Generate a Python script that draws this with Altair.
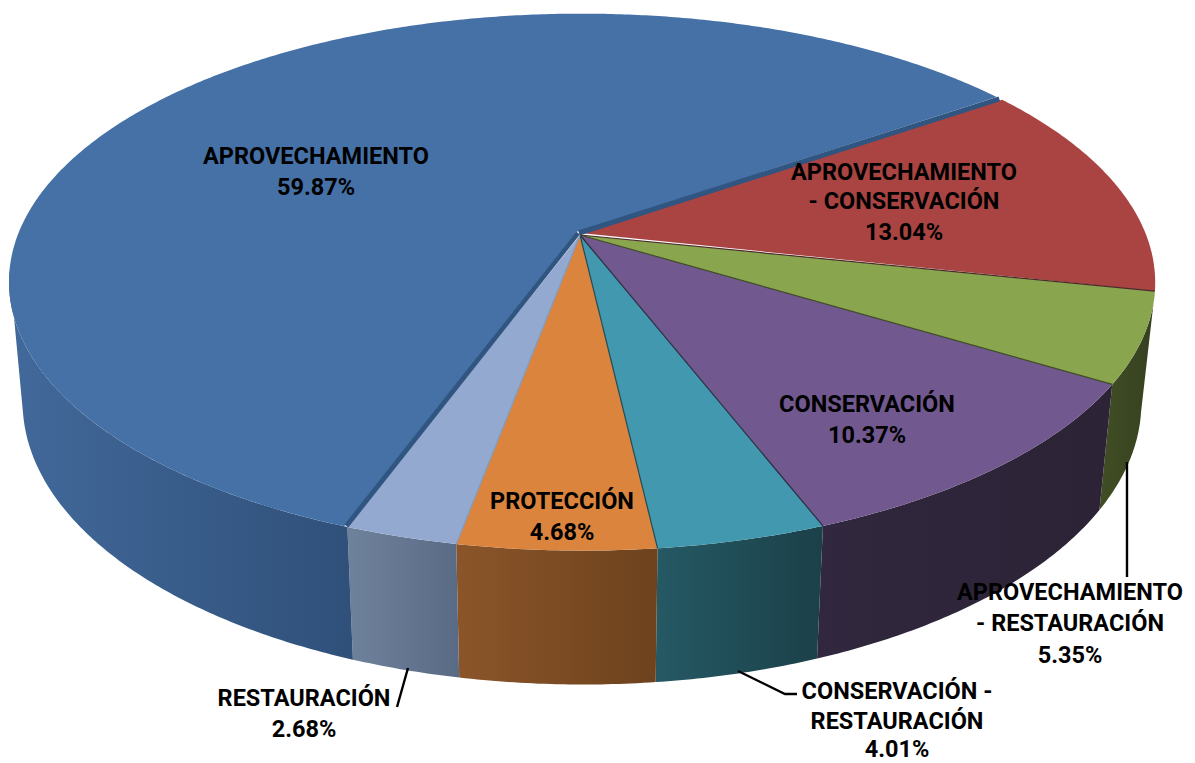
import math
import altair as alt
import pandas as pd

names = ["RED", "GREEN", "PURPLE", "TEAL", "ORANGE", "LIGHT", "BLUE"]
shares = [13.04, 5.35, 10.37, 4.01, 4.68, 2.68, 59.87]
top_colors = ["#a94442", "#89a54e", "#71588f", "#4198af", "#db843d", "#93a9cf", "#4571a7"]
wall_left = ["#a94442", "#414e24", "#31273e", "#255964", "#8b5529", "#6f829c", "#42699b"]
wall_right = ["#a94442", "#364020", "#2c2336", "#1b4049", "#6d421d", "#596a85", "#2f5079"]

label_text = ["APROVECHAMIENTO", "59.87%", "APROVECHAMIENTO", "- CONSERVACIÓN", "13.04%",
              "CONSERVACIÓN", "10.37%", "PROTECCIÓN", "4.68%", "RESTAURACIÓN", "2.68%",
              "CONSERVACIÓN -", "RESTAURACIÓN", "4.01%", "APROVECHAMIENTO", "-  RESTAURACIÓN", "5.35%"]
label_x = [316, 316, 904, 904, 904, 867, 867, 562, 562, 304, 304, 897, 897, 897, 1070, 1070, 1070]
label_y = [157, 188, 173, 202, 233, 405, 436, 502, 533, 699, 730, 692, 722, 750, 593, 624, 656]

leader_x = [[1127, 1127], [408, 397], [738, 785, 797]]
leader_y = [[462, 577], [668, 707], [671, 694, 694]]

START = -34.6
CX, CY, A, B, K, M = 578.0, 233.0, 563.4, 259.5, 0.183, 0.007
SCX, SCY = alt.Scale(domain=[8, 1187]), alt.Scale(domain=[763, 8])


def top(t):
    u, v = math.cos(math.radians(t)), math.sin(math.radians(t))
    s = 1 / (1 - K * v - M * u)
    return CX + A * u * s, CY + B * v * s


def bottom(t):
    x, y = top(t)
    return CX + 0.976 * (x - CX), CY + 118 + 1.05 * (y - CY)


def arc(f, a, b):
    n = max(2, int(abs(b - a)) * 2)
    return [f(a + (b - a) * i / n) for i in range(n + 1)]


def poly(points, fill):
    df = pd.DataFrame(points, columns=["x", "y"])
    df["i"] = range(len(df))
    return alt.Chart(df).mark_line(interpolate="linear", fill=fill, stroke=None, strokeWidth=0).encode(
        x=alt.X("x:Q", scale=SCX, axis=None),
        y=alt.Y("y:Q", scale=SCY, axis=None),
        order="i:Q",
    )


def path(xs, ys, color, sw):
    df = pd.DataFrame({"x": xs, "y": ys, "i": range(len(xs))})
    return alt.Chart(df).mark_line(color=color, strokeWidth=sw, interpolate="linear").encode(
        x=alt.X("x:Q", scale=SCX, axis=None),
        y=alt.Y("y:Q", scale=SCY, axis=None),
        order="i:Q",
    )


edges = [START]
for p in shares:
    edges.append(edges[-1] + p * 3.6)

layers = []
# outer walls
wall_ranges = [(edges[1], edges[2]), (edges[2], edges[3]), (edges[3], edges[4]),
               (edges[4], edges[5]), (edges[5], edges[6]), (edges[6], 172.0)]
for idx, (a, b) in zip(range(1, 7), wall_ranges):
    a2 = max(a, 10.0)
    pts = arc(top, a2, b) + arc(bottom, min(b, 167.0), a2)
    grad = alt.Gradient(gradient="linear", x1=0, x2=1, y1=0, y2=0,
                        stops=[alt.GradientStop(color=wall_left[idx], offset=0),
                               alt.GradientStop(color=wall_right[idx], offset=1)])
    layers.append(poly(pts, grad))

# top faces: blue first, then the others, then the blue cut faces
blue = [(CX - 2, CY - 1)] + arc(top, edges[6] + 0.3, edges[7] - 0.6)
layers.append(poly(blue, top_colors[6]))
for idx in range(6):
    ax = CX + 2
    ay = CY if idx == 0 else CY + 2
    ta = edges[idx] + (0.3 if idx == 0 else 0)
    pts = [(ax, ay)] + arc(top, ta, edges[idx + 1])
    layers.append(poly(pts, top_colors[idx]))

x1, y1 = top(edges[7])
layers.append(path([CX + 1, x1 - 1], [CY, y1], "#2f5580", 5.0))
x6, y6 = top(edges[6])
layers.append(path([CX, x6 - 1], [CY, y6 - 1], "#2f5580", 4.8))

# thin dividing lines on the top face
for t, c in [(edges[1], "#4a2a2a"), (edges[2], "#3f4a25"), (edges[3], "#2a2a40"),
             (edges[4], "#1f4a55"), (edges[5], "#7f9bc0")]:
    x, y = top(t)
    layers.append(path([CX + 2, x], [CY + 2, y], c, 1.2))

for xs, ys in zip(leader_x, leader_y):
    layers.append(path(xs, ys, "#000000", 2.4))

labels = pd.DataFrame({"x": label_x, "y": label_y, "t": label_text})
layers.append(alt.Chart(labels).mark_text(
    font="Roboto", fontWeight="bold", fontSize=23.5, color="#000000",
    baseline="middle", align="center").encode(
    x=alt.X("x:Q", scale=SCX, axis=None),
    y=alt.Y("y:Q", scale=SCY, axis=None),
    text="t:N",
))

chart = alt.layer(*layers).properties(
    width=1179, height=755, padding=0, background="#ffffff",
    autosize=alt.AutoSizeParams(type="none"),
).configure_view(stroke=None)

chart.save("out.html", embed_options={"renderer": "svg", "actions": False})
